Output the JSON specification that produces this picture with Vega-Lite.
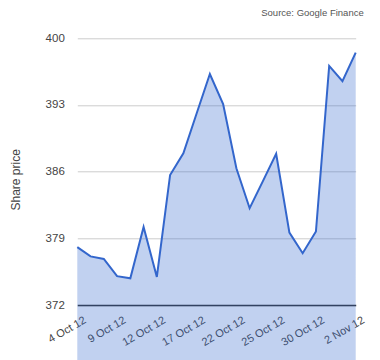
{
  "$schema": "https://vega.github.io/schema/vega-lite/v6.json",
  "autosize": "none",
  "width": 278.4,
  "height": 266.7,
  "padding": {"left": 77.3, "top": 38.3, "right": 24.3, "bottom": 55},
  "background": "white",
  "title": {
    "text": "Source: Google Finance",
    "anchor": "end",
    "fontSize": 9.5,
    "font": "Liberation Sans",
    "fontWeight": "normal",
    "color": "#555555",
    "baseline": "alphabetic",
    "offset": 7,
    "dx": -2
  },
  "data": {
    "values": [
      {"day": "4 Oct 12", "price": 378.07},
      {"day": "5 Oct 12", "price": 377.1},
      {"day": "8 Oct 12", "price": 376.84},
      {"day": "9 Oct 12", "price": 375.03},
      {"day": "10 Oct 12", "price": 374.8},
      {"day": "11 Oct 12", "price": 380.2},
      {"day": "12 Oct 12", "price": 374.95},
      {"day": "15 Oct 12", "price": 385.65},
      {"day": "16 Oct 12", "price": 387.93},
      {"day": "17 Oct 12", "price": 392.1},
      {"day": "18 Oct 12", "price": 396.25},
      {"day": "19 Oct 12", "price": 393.1},
      {"day": "22 Oct 12", "price": 386.36},
      {"day": "23 Oct 12", "price": 382.16},
      {"day": "24 Oct 12", "price": 385.0},
      {"day": "25 Oct 12", "price": 387.88},
      {"day": "26 Oct 12", "price": 379.6},
      {"day": "29 Oct 12", "price": 377.44},
      {"day": "30 Oct 12", "price": 379.72},
      {"day": "31 Oct 12", "price": 397.1},
      {"day": "1 Nov 12", "price": 395.49},
      {"day": "2 Nov 12", "price": 398.5}
    ]
  },
  "config": {
    "view": {"stroke": null},
    "font": "Liberation Sans"
  },
  "mark": {
    "type": "area",
    "color": "#3366cc",
    "fillOpacity": 0.3,
    "line": {"color": "#3366cc", "strokeWidth": 2}
  },
  "encoding": {
    "x": {
      "field": "day",
      "type": "ordinal",
      "sort": null,
      "scale": {"type": "point", "padding": 0},
      "axis": {
        "title": null,
        "values": ["4 Oct 12", "9 Oct 12", "12 Oct 12", "17 Oct 12", "22 Oct 12", "25 Oct 12", "30 Oct 12", "2 Nov 12"],
        "labelAngle": -30,
        "labelAlign": "right",
        "labelBaseline": "top",
        "labelOffset": 4.5,
        "labelFontSize": 11,
        "labelColor": "#444444",
        "ticks": false,
        "grid": false,
        "domainColor": "#333333",
        "domainWidth": 1.5,
        "labelPadding": 9
      }
    },
    "y": {
      "field": "price",
      "type": "quantitative",
      "scale": {"domain": [372, 400], "nice": false, "zero": false},
      "axis": {
        "title": "Share price",
        "titleFontSize": 12,
        "titleFontWeight": "normal",
        "titleColor": "#444444",
        "titleAngle": -90,
        "titleBaseline": "middle",
        "titleAlign": "center",
        "titleX": -62,
        "titleY": 141,
        "values": [372, 379, 386, 393, 400],
        "labelFontSize": 11.5,
        "labelColor": "#444444",
        "ticks": false,
        "domain": false,
        "gridColor": "#cccccc",
        "labelPadding": 13
      }
    }
  }
}
